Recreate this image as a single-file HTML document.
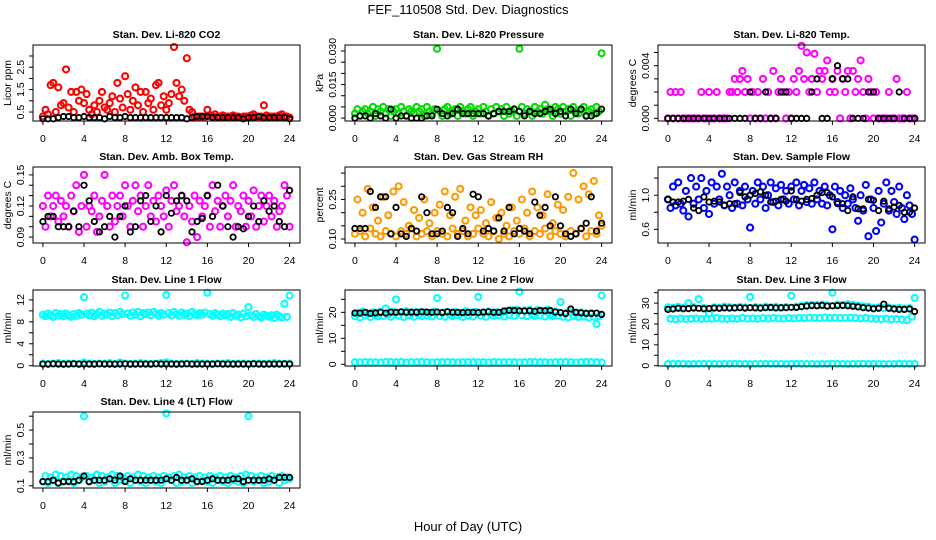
<!DOCTYPE html>
<html><head><meta charset="utf-8">
<style>
html,body{margin:0;padding:0;background:#fff;}
svg{display:block;font-family:"Liberation Sans",Arial,sans-serif;}
</style></head>
<body>
<svg id="chart" width="936" height="540" viewBox="0 0 936 540" xmlns="http://www.w3.org/2000/svg">
<rect x="0" y="0" width="936" height="540" fill="#fff"/>
<text x="468" y="14" font-size="13" text-anchor="middle">FEF_110508  Std. Dev. Diagnostics</text>
<text x="468" y="531" font-size="13" text-anchor="middle">Hour of Day (UTC)</text>
</svg>
<script>
const hourTicks = [0,4,8,12,16,20,24];

const co2Red = [0.3,0.6,0.4,1.7,1.8,0.5,1.6,0.8,0.9,2.4,0.7,1.4,0.5,1.4,1.0,1.5,
0.9,1.3,0.6,0.4,0.8,0.5,1.0,1.4,0.7,0.6,0.9,1.2,0.5,1.8,1.1,0.7,
2.1,1.3,0.6,1.0,1.6,0.8,1.4,0.5,1.4,0.9,1.1,0.6,1.7,1.8,0.8,1.2,
0.6,0.9,1.3,3.4,1.8,1.2,1.5,1.0,2.9,0.6,0.5,0.3,0.3,0.3,0.3,0.3,
0.6,0.35,0.3,0.4,0.3,0.3,0.35,0.3,0.3,0.3,0.35,0.3,0.3,0.25,0.3,0.3,
0.3,0.35,0.4,0.3,0.3,0.3,0.8,0.35,0.3,0.3,0.3,0.3,0.35,0.4,0.3,0.3,0.25];
const co2Black = [0.2,0.2,0.2,0.25,0.3,0.3,0.25,0.25,0.3,0.25,0.25,0.25,0.2,0.3,0.25,0.25,0.3,0.25,0.25,0.25,0.25,0.25,0.25,0.25,0.25,0.25,0.25,0.25,0.2,0.25,0.3,0.3,0.3,0.25,0.25,0.25,0.25,0.25,0.25,0.2,0.25,0.25,0.3,0.25,0.25,0.25,0.25,0.25,0.2];

const presGreen = [0.002,0.004,0.001,0.003,0.004,0.002,0.003,0.005,0.001,0.004,0.003,0.005,0.002,0.004,0.001,0.003,
0.004,0.002,0.005,0.003,0.001,0.004,0.003,0.002,0.005,0.003,0.004,0.001,0.005,0.003,0.002,0.004,
0.031,0.003,0.001,0.004,0.005,0.002,0.003,0.004,0.001,0.005,0.003,0.002,0.004,0.005,0.001,0.003,
0.004,0.002,0.005,0.003,0.001,0.004,0.002,0.005,0.003,0.004,0.001,0.005,0.002,0.003,0.004,0.001,
0.031,0.005,0.002,0.004,0.003,0.001,0.005,0.003,0.004,0.002,0.006,0.004,0.003,0.001,0.005,0.004,
0.002,0.005,0.003,0.004,0.001,0.005,0.003,0.002,0.004,0.005,0.001,0.003,0.004,0.002,0.005,0.003,0.029];
const presBlack = [0,0.001,0.001,0,0.002,0.001,0,0.004,0,0.001,0.001,0,0,0,0.001,0.001,0.004,0.002,0.001,0.002,0.004,0.002,0.002,0.002,0.002,0.002,0.001,0.002,0.003,0.003,0.003,0.004,0.003,0.001,0.003,0.002,0.002,0.003,0.004,0.002,0.003,0.001,0.004,0.002,0.004,0.001,0.001,0.002,0.004];

const tempMag = [0,0.002,0,0.002,0,0.002,0,0,0,0,0,0,0,0.002,0,0,
0.002,0,0,0.002,0,0,0,0,0.002,0.002,0.003,0.002,0.003,0.0036,0.002,0.003,
0,0.002,0,0.002,0,0.003,0,0.002,0,0.0036,0,0.002,0.003,0.002,0,0.002,
0,0.003,0.002,0.0036,0.0055,0.003,0.005,0.002,0.003,0.0049,0.002,0.0036,0.003,0.0036,0.0044,0.002,
0.003,0.002,0.0036,0,0.003,0.002,0.0036,0,0.0036,0.002,0.003,0.0044,0.002,0,0.003,0.002,
0,0.002,0,0,0,0,0.002,0,0,0.003,0,0,0,0.002,0,0,0];
const tempBlack = [0,0,0,0,0,0,0,0,0,0,0,0,0,0,0,0,0.002,0,0,0.002,0,0,0.002,0.002,0,0,0,0,0.002,0.003,0,0,0.003,0.004,0.003,0.003,0,0,0,0.002,0.002,0,0,0,0,0.002,0,0,0];

const boxMag = [0.12,0.10,0.13,0.11,0.12,0.13,0.105,0.125,0.11,0.12,0.10,0.13,0.115,0.14,0.095,0.12,
0.15,0.10,0.12,0.115,0.13,0.095,0.11,0.125,0.15,0.12,0.10,0.13,0.105,0.12,0.13,0.11,
0.14,0.12,0.10,0.125,0.14,0.115,0.13,0.10,0.12,0.14,0.11,0.125,0.105,0.13,0.12,0.11,
0.135,0.10,0.125,0.14,0.115,0.12,0.13,0.11,0.085,0.12,0.105,0.13,0.09,0.125,0.11,0.12,
0.13,0.10,0.14,0.115,0.125,0.10,0.12,0.13,0.11,0.125,0.14,0.10,0.12,0.115,0.13,0.10,
0.125,0.11,0.135,0.10,0.12,0.13,0.105,0.12,0.13,0.11,0.125,0.10,0.115,0.12,0.14,0.13,0.10];
const boxBlack = [0.105,0.11,0.11,0.10,0.10,0.10,0.115,0.10,0.14,0.125,0.105,0.095,0.10,0.11,0.09,0.11,0.12,0.095,0.10,0.125,0.13,0.105,0.12,0.095,0.13,0.113,0.125,0.13,0.125,0.095,0.105,0.108,0.13,0.11,0.14,0.12,0.10,0.09,0.10,0.098,0.11,0.12,0.105,0.125,0.115,0.12,0.105,0.10,0.135];

const rhOrange = [0.12,0.25,0.13,0.2,0.11,0.29,0.14,0.22,0.12,0.17,0.11,0.26,0.13,0.19,0.12,0.28,
0.11,0.3,0.13,0.24,0.12,0.15,0.14,0.21,0.11,0.18,0.12,0.25,0.13,0.16,0.11,0.2,
0.13,0.23,0.12,0.28,0.11,0.19,0.14,0.26,0.12,0.29,0.13,0.17,0.11,0.22,0.12,0.19,
0.14,0.21,0.12,0.16,0.11,0.24,0.13,0.18,0.10,0.2,0.12,0.15,0.11,0.22,0.13,0.17,
0.12,0.25,0.14,0.2,0.11,0.28,0.13,0.22,0.12,0.19,0.14,0.27,0.11,0.16,0.13,0.23,
0.12,0.21,0.11,0.26,0.13,0.35,0.12,0.25,0.14,0.3,0.11,0.27,0.13,0.32,0.12,0.19,0.15];
const rhBlack = [0.14,0.14,0.14,0.28,0.22,0.26,0.26,0.12,0.22,0.12,0.11,0.14,0.13,0.26,0.2,0.12,0.12,0.13,0.22,0.2,0.11,0.14,0.12,0.27,0.26,0.13,0.14,0.13,0.18,0.13,0.22,0.12,0.14,0.13,0.12,0.24,0.19,0.22,0.15,0.26,0.15,0.12,0.11,0.12,0.14,0.16,0.26,0.13,0.16];

const flowBlue = [0.95,0.85,1.1,0.88,1.15,0.9,0.82,1.05,0.75,1.2,0.9,1.1,0.95,1.2,0.85,1.05,
0.78,1.15,0.9,1.1,0.95,1.25,0.88,1.1,1.0,0.85,1.15,0.9,1.05,0.88,1.1,0.95,
0.62,1.05,0.9,1.15,0.95,1.1,0.85,1.0,1.15,0.92,1.08,0.88,1.12,0.95,1.05,0.9,
1.1,0.95,1.15,0.88,1.05,1.12,0.92,1.08,0.9,1.15,0.95,1.05,0.9,1.1,0.88,1.0,
0.6,1.1,0.92,1.05,0.85,1.0,0.9,1.08,0.95,0.85,0.7,1.0,0.82,1.12,0.52,0.95,
0.85,0.58,1.05,0.68,0.9,1.15,0.82,1.05,0.92,0.78,1.1,0.85,0.72,1.0,0.88,0.78,0.48];
const flowBlack = [0.95,0.92,0.92,0.93,0.95,0.85,0.82,0.98,0.92,0.93,0.92,0.88,0.9,0.9,1.03,0.98,1.0,1.02,1.04,1.0,0.92,0.93,0.95,0.93,1.05,0.95,0.93,0.95,0.96,1.0,1.03,1.03,0.98,0.9,0.9,0.82,0.98,0.84,0.84,0.95,0.94,0.82,0.93,0.84,0.86,0.88,0.8,0.8,0.85];

const line1High = [9.3,9.0,9.5,9.2,8.9,9.6,9.1,9.4,9.0,9.5,9.2,8.9,9.4,9.1,9.6,9.3,
12.5,9.5,9.2,9.7,9.0,9.4,9.8,9.1,9.5,9.3,9.7,9.0,9.6,9.2,9.8,9.4,
12.8,9.5,9.1,9.7,9.3,9.8,9.0,9.6,9.4,9.7,9.2,9.8,9.5,9.1,9.6,9.3,
12.9,9.6,9.2,9.8,9.4,9.1,9.7,9.3,9.5,9.0,9.8,9.4,9.2,9.6,9.3,9.7,
13.3,9.4,9.1,9.6,9.3,9.0,9.5,9.2,9.4,8.9,9.6,9.1,9.3,8.8,9.5,9.0,
10.7,9.2,8.9,9.4,9.0,8.8,9.3,9.1,8.9,9.2,8.7,9.3,9.0,8.8,11.3,8.9,12.8];
const line1Low = [0.4,0.3,0.4,0.5,0.3,0.4,0.4,0.3,0.6,0.4,0.3,0.4,0.4,0.5,0.3,0.6,0.4,0.3,0.4,0.5,0.4,0.3,0.4,0.5,0.6,0.4,0.3,0.4,0.4,0.3,0.5,0.4,0.4,0.3,0.4,0.4,0.5,0.3,0.4,0.4,0.3,0.4,0.4,0.3,0.4,0.5,0.4,0.3,0.4];
const line1Black = [0.3,0.3,0.35,0.3,0.3,0.3,0.35,0.3,0.3,0.3,0.3,0.35,0.3,0.3,0.3,0.3,0.35,0.3,0.3,0.3,0.3,0.3,0.35,0.3,0.3,0.3,0.3,0.3,0.35,0.3,0.3,0.3,0.3,0.3,0.35,0.3,0.3,0.3,0.3,0.3,0.3,0.35,0.3,0.3,0.3,0.3,0.3,0.35,0.3];

const line2High = [18.5,19.8,18.0,20.2,18.8,19.5,18.2,20.0,19.0,18.4,20.3,18.6,21.5,19.2,18.3,20.1,
25.0,18.7,19.9,18.2,20.4,18.9,19.6,18.3,20.2,19.1,18.5,20.0,18.8,19.7,18.4,20.3,
25.5,18.6,19.8,18.3,20.2,19.0,18.5,20.1,18.9,19.6,18.2,20.4,18.7,19.9,18.4,20.2,
26.0,18.8,19.7,18.3,20.3,19.1,18.6,20.0,18.9,19.8,18.4,20.5,19.0,20.8,18.7,21.0,
28.0,18.9,20.7,18.5,21.0,19.2,18.6,20.9,18.8,20.6,18.4,21.0,19.0,18.5,20.4,18.7,
24.0,18.3,19.8,18.1,20.0,18.6,19.5,18.2,19.9,18.4,19.6,18.0,19.7,18.3,15.5,18.5,26.5];
const line2Low = [0.8,0.7,0.9,0.8,0.8,0.7,0.9,0.8,0.8,0.9,0.7,0.8,0.8,0.9,0.8,0.7,0.8,0.8,0.9,0.8,0.7,0.8,0.9,0.8,0.8,0.8,0.7,0.9,0.8,0.8,0.9,0.8,0.7,0.8,0.8,0.9,0.8,0.8,0.7,0.8,0.9,0.8,0.8,0.7,0.8,0.9,0.8,0.8,0.7];
const line2Black = [19.7,19.7,20.0,19.6,19.8,20.0,19.7,20.1,20.0,20.2,20.0,20.1,20.0,20.2,20.1,20.0,20.1,19.9,20.2,20.0,20.0,19.9,20.0,20.0,19.9,20.1,20.2,20.0,20.0,20.5,20.8,20.7,20.6,20.5,20.6,20.4,20.7,20.6,20.7,20.1,19.9,19.5,21.3,20.0,19.8,19.6,19.6,19.7,19.2];

const line3High = [28.0,22.5,27.8,22.3,28.2,22.6,27.9,22.4,30.0,22.5,28.1,22.7,32.0,22.4,27.8,22.6,
25.0,22.5,28.0,22.8,27.9,22.6,28.3,22.4,28.1,22.7,27.8,22.5,28.2,22.9,28.0,22.6,
33.0,22.7,28.1,22.5,27.9,22.8,28.3,22.6,28.0,22.9,28.2,22.7,27.8,22.6,28.1,22.8,
33.5,22.7,28.4,22.9,28.6,22.8,29.0,23.0,29.2,22.9,29.0,22.8,29.3,23.1,28.9,22.9,
35.0,23.0,29.3,22.8,29.1,22.9,29.5,23.0,29.2,22.8,28.8,22.7,28.5,22.9,28.3,22.6,
27.8,22.5,28.0,22.4,27.6,22.6,27.9,22.3,27.5,22.4,27.7,22.2,27.4,21.8,27.6,23.5,32.5];
const line3Low = [0.8,0.8,0.9,0.8,0.7,0.8,0.8,0.9,0.8,0.8,0.7,0.8,0.8,0.9,0.8,0.8,0.7,0.8,0.8,0.9,0.8,0.8,0.8,0.7,0.8,0.9,0.8,0.8,0.8,0.7,0.8,0.8,0.9,0.8,0.8,0.7,0.8,0.8,0.9,0.8,0.8,0.8,0.7,0.8,0.8,0.9,0.8,0.8,0.8];
const line3Black = [27.0,27.2,27.5,27.3,27.4,27.6,27.5,27.3,27.4,27.6,27.5,27.7,27.6,27.7,27.8,27.6,27.8,27.7,27.6,27.8,27.9,27.7,27.8,27.8,28.0,27.9,28.3,28.6,28.8,28.7,28.9,28.6,28.7,28.8,28.9,28.7,28.5,28.2,27.8,27.6,27.3,27.5,29.5,27.5,27.2,27.0,27.0,27.2,26.0];

const line4Cyan = [0.13,0.17,0.12,0.16,0.14,0.18,0.12,0.17,0.13,0.16,0.14,0.18,0.12,0.17,0.14,0.16,
0.60,0.17,0.13,0.16,0.14,0.18,0.12,0.17,0.13,0.16,0.15,0.18,0.12,0.17,0.14,0.16,
0.14,0.17,0.12,0.16,0.14,0.18,0.13,0.17,0.12,0.16,0.14,0.17,0.13,0.16,0.12,0.17,
0.62,0.16,0.14,0.17,0.12,0.18,0.13,0.16,0.14,0.17,0.12,0.16,0.13,0.17,0.14,0.16,
0.13,0.17,0.12,0.16,0.14,0.17,0.13,0.16,0.12,0.17,0.14,0.16,0.13,0.17,0.12,0.18,
0.60,0.17,0.13,0.16,0.14,0.17,0.12,0.16,0.13,0.17,0.14,0.16,0.12,0.17,0.14,0.16,0.15];
const line4Black = [0.13,0.13,0.14,0.12,0.13,0.13,0.13,0.14,0.17,0.13,0.14,0.14,0.14,0.15,0.14,0.17,0.13,0.15,0.14,0.14,0.14,0.14,0.14,0.14,0.15,0.14,0.16,0.14,0.14,0.15,0.13,0.13,0.14,0.15,0.14,0.14,0.14,0.15,0.15,0.13,0.14,0.14,0.14,0.14,0.15,0.14,0.16,0.16,0.16];

const panels = [
 {name:'co2', title:'Stan. Dev. Li-820 CO2', ylab:'Licor ppm', col:0,row:0, ylim:[0.1,3.49], ticks:[0.5,1,1.5,2,2.5,3], labels:['0.5','1.5','2.5'], labelVals:[0.5,1.5,2.5], series:[[co2Red,'#ff0000'],[co2Black,'#000']]},
 {name:'pressure', title:'Stan. Dev. Li-820 Pressure', ylab:'kPa', col:1,row:0, ylim:[-0.0013,0.0327], ticks:[0,0.005,0.01,0.015,0.02,0.025,0.03], labels:['0.000','0.015','0.030'], labelVals:[0,0.015,0.03], series:[[presGreen,'#00dd00'],[presBlack,'#000']]},
 {name:'li820-temp', title:'Stan. Dev. Li-820 Temp.', ylab:'degrees C', col:2,row:0, ylim:[-0.0002,0.00557], ticks:[0,0.001,0.002,0.003,0.004,0.005], labels:['0.000','0.004'], labelVals:[0,0.004], series:[[tempMag,'#ff00ff'],[tempBlack,'#000']]},
 {name:'box-temp', title:'Stan. Dev. Amb. Box Temp.', ylab:'degrees C', col:0,row:1, ylim:[0.0843,0.1576], ticks:[0.09,0.10,0.11,0.12,0.13,0.14,0.15], labels:['0.09','0.12','0.15'], labelVals:[0.09,0.12,0.15], series:[[boxMag,'#ff00ff'],[boxBlack,'#000']]},
 {name:'rh', title:'Stan. Dev. Gas Stream RH', ylab:'percent', col:1,row:1, ylim:[0.085,0.373], ticks:[0.10,0.15,0.20,0.25,0.30,0.35], labels:['0.10','0.25'], labelVals:[0.10,0.25], series:[[rhOrange,'#ff9900'],[rhBlack,'#000']]},
 {name:'sample-flow', title:'Stan. Dev. Sample Flow', ylab:'ml/min', col:2,row:1, ylim:[0.44,1.33], ticks:[0.6,0.8,1.0,1.2], labels:['0.6','1.0'], labelVals:[0.6,1.0], series:[[flowBlue,'#0000ff'],[flowBlack,'#000']]},
 {name:'line1', title:'Stan. Dev. Line 1 Flow', ylab:'ml/min', col:0,row:2, ylim:[-0.05,13.8], ticks:[0,2,4,6,8,10,12], labels:['0','4','8','12'], labelVals:[0,4,8,12], series:[[line1High,'#00ffff'],[line1Low,'#00ffff'],[line1Black,'#000']]},
 {name:'line2', title:'Stan. Dev. Line 2 Flow', ylab:'ml/min', col:1,row:2, ylim:[-0.65,28.6], ticks:[0,5,10,15,20,25], labels:['0','10','20'], labelVals:[0,10,20], series:[[line2High,'#00ffff'],[line2Low,'#00ffff'],[line2Black,'#000']]},
 {name:'line3', title:'Stan. Dev. Line 3 Flow', ylab:'ml/min', col:2,row:2, ylim:[-0.15,36.3], ticks:[0,5,10,15,20,25,30,35], labels:['0','10','20','30'], labelVals:[0,10,20,30], series:[[line3High,'#00ffff'],[line3Low,'#00ffff'],[line3Black,'#000']]},
 {name:'line4', title:'Stan. Dev. Line 4 (LT) Flow', ylab:'ml/min', col:0,row:3, ylim:[0.084,0.63], ticks:[0.1,0.2,0.3,0.4,0.5,0.6], labels:['0.1','0.3','0.5'], labelVals:[0.1,0.3,0.5], series:[[line4Cyan,'#00ffff'],[line4Black,'#000']]}
];

const NS='http://www.w3.org/2000/svg';
const svg=document.getElementById('chart');
const colX=[33,345,658], rowY=[45,167,290,412], W=267, H=76;
function mk(tag,attrs,parent){const e=document.createElementNS(NS,tag);for(const k in attrs)e.setAttribute(k,attrs[k]);(parent||svg).appendChild(e);return e;}

panels.forEach(p=>{
  const L=colX[p.col], T=rowY[p.row], B=T+H;
  const g=mk('g',{});
  
  
  const xs=t=>L+9.9+t*10.28;
  const ys=v=>B-(v-p.ylim[0])/(p.ylim[1]-p.ylim[0])*H;
  const t=mk('text',{x:L+W/2,y:T-7,'font-size':10.5,'font-weight':'bold','text-anchor':'middle'},g);
  t.textContent=p.title;
  
  
  p.series.forEach((s,si)=>{
    const arr=s[0], n=arr.length;
    const black = s[1]==='#000';
    const sg=mk('g',{fill:'none',stroke:s[1],'stroke-width':black?1.8:2.1},g);
    
    
    arr.forEach((v,i)=>{
      const hr=i*24/(n-1);
      const c=mk('circle',{cx:xs(hr).toFixed(1),cy:ys(v).toFixed(1),r:black?2.7:3},sg);
      
      
    });
  });
  const box=mk('rect',{x:L,y:T,width:W,height:H,fill:'none',stroke:'#000','stroke-width':1},g);
  
  
  mk('line',{x1:xs(0),y1:B,x2:xs(24),y2:B,stroke:'#000'},g);
  hourTicks.forEach(h=>{
    mk('line',{x1:xs(h),y1:B,x2:xs(h),y2:B+4,stroke:'#000'},g);
    const tl=mk('text',{x:xs(h),y:B+21,'font-size':10.5,'text-anchor':'middle'},g);
    tl.textContent=h;
    
    
  });
  p.ticks.forEach(v=>{mk('line',{x1:L-4,y1:ys(v),x2:L,y2:ys(v),stroke:'#000'},g);});
  p.labelVals.forEach((v,i)=>{
    const yl=mk('text',{x:0,y:0,'font-size':10.5,'text-anchor':'middle',transform:`translate(${L-9},${ys(v)}) rotate(-90)`},g);
    yl.textContent=p.labels[i];
    
    
  });
  const yt=mk('text',{x:0,y:0,'font-size':10.5,'text-anchor':'middle',transform:`translate(${L-22},${T+H/2}) rotate(-90)`},g);
  yt.textContent=p.ylab;
  
  
});
</script>
</body></html>
